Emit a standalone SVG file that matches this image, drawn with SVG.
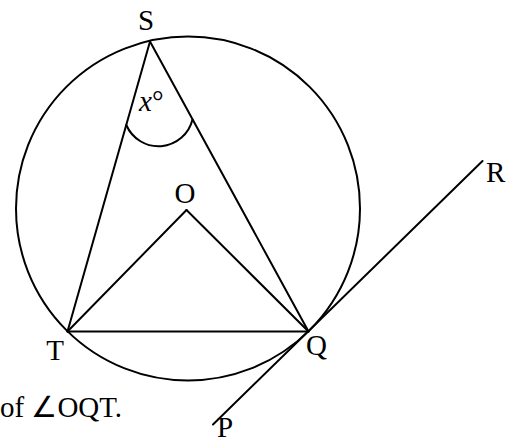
<svg xmlns="http://www.w3.org/2000/svg" width="518" height="443" viewBox="0 0 518 443">
<style>
.ln{stroke:#000;stroke-width:2;fill:none;stroke-linecap:round}
.lb{font-family:"Liberation Serif","Times New Roman",serif;font-size:29px;fill:#000}
</style>
<rect width="518" height="443" fill="#fff"/>
<g id="circle"><circle class="ln" cx="188" cy="208.5" r="172"/></g>
<g id="connectors">
<line class="ln" x1="150" y1="41.5" x2="67.5" y2="331.5"/>
<line class="ln" x1="150" y1="41.5" x2="308.5" y2="331.5"/>
<line class="ln" x1="67.5" y1="331.5" x2="308.5" y2="331.5"/>
<line class="ln" x1="67.5" y1="331.5" x2="186.5" y2="210"/>
<line class="ln" x1="308.5" y1="331.5" x2="186.5" y2="210"/>
<line class="ln" x1="213" y1="424.5" x2="482.5" y2="161"/>
<path class="ln" d="M126.3,125 A35,35 0 0 0 192.5,119.5"/>
</g>
<g id="S"><text class="lb" x="146" y="30" text-anchor="middle">S</text></g>
<g id="angle-x"><text class="lb" x="139" y="111"><tspan font-style="italic">x</tspan>°</text></g>
<g id="O"><text class="lb" x="185" y="203" text-anchor="middle">O</text></g>
<g id="T"><text class="lb" x="55" y="360" text-anchor="middle">T</text></g>
<g id="Q"><text class="lb" x="306" y="355">Q</text></g>
<g id="R"><text class="lb" x="486" y="182">R</text></g>
<g id="P"><text class="lb" x="217" y="437">P</text></g>
<g id="caption"><text class="lb" x="0" y="417">of ∠OQT.</text></g>
</svg>
